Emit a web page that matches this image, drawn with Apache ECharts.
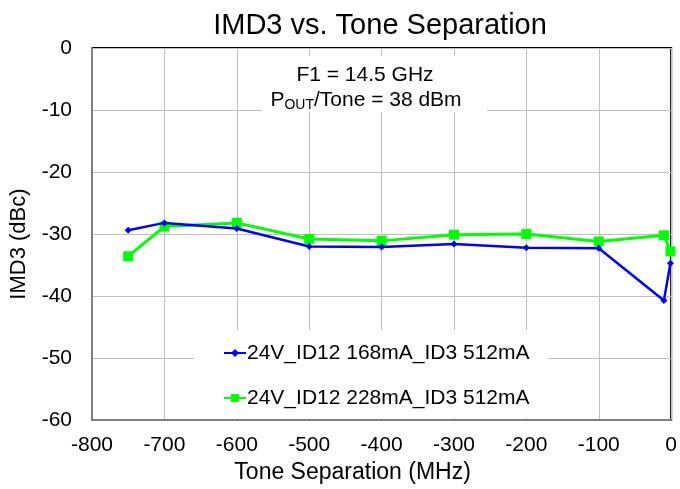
<!DOCTYPE html>
<html>
<head>
<meta charset="utf-8">
<script src="https://cdn.jsdelivr.net/npm/echarts@6/dist/echarts.min.js"></script>
<style>
  html, body { margin: 0; padding: 0; background: #fff; }
  #chart { width: 680px; height: 489px; }
</style>
</head>
<body>
<div id="chart"></div>
<script>
// tone separation (MHz) for each measured point
var toneSep = [-750, -700, -600, -500, -400, -300, -200, -100, -10, -1];
// IMD3 (dBc)
var imd3Id168 = [-29.4, -28.2, -29.1, -32.0, -32.1, -31.6, -32.2, -32.3, -40.7, -34.7];
var imd3Id228 = [-33.6, -28.8, -28.2, -30.8, -31.1, -30.1, -30.0, -31.2, -30.2, -32.8];
var seriesNames = ['24V_ID12 168mA_ID3 512mA', '24V_ID12 228mA_ID3 512mA'];

var FONT = 'Liberation Sans, Arial, sans-serif';

function pairs(xs, ys) {
    var out = [];
    for (var i = 0; i < xs.length; i++) {
        out.push([xs[i], ys[i]]);
    }
    return out;
}

var chart = echarts.init(document.getElementById('chart'));

chart.setOption({
    animation: false,
    backgroundColor: '#fff',
    textStyle: { fontFamily: FONT },
    title: {
        text: 'IMD3 vs. Tone Separation',
        left: 375,
        top: 6,
        textAlign: 'center',
        textStyle: { fontFamily: FONT, fontSize: 29, fontWeight: 'normal', color: '#000' }
    },
    grid: {
        left: 92, right: 6, top: 48, bottom: 65,
        show: true,
        borderColor: '#000',
        borderWidth: 2,
        backgroundColor: 'transparent'
    },
    xAxis: {
        type: 'value',
        min: -800, max: 0, interval: 100,
        name: 'Tone Separation (MHz)',
        nameLocation: 'middle',
        nameGap: 38,
        // the name sits a little left of the plot centre in the original
        nameTextStyle: { fontFamily: FONT, fontSize: 23, color: '#000', padding: [0, 58, 0, 0] },
        axisLine: { show: true, onZero: false, lineStyle: { color: '#808080', width: 2 } },
        axisTick: { show: false },
        axisLabel: { fontFamily: FONT, fontSize: 21, color: '#000', margin: 15 },
        splitLine: { show: true, lineStyle: { color: '#c0c0c0', width: 1 } }
    },
    yAxis: {
        type: 'value',
        min: -60, max: 0, interval: 10,
        name: 'IMD3 (dBc)',
        nameLocation: 'middle',
        nameGap: 62,
        nameTextStyle: { fontFamily: FONT, fontSize: 22, color: '#000', padding: [0, 20, 0, 0] },
        axisLine: { show: true, onZero: false, lineStyle: { color: '#808080', width: 2 } },
        axisTick: { show: false },
        axisLabel: { fontFamily: FONT, fontSize: 21, color: '#000', margin: 20 },
        splitLine: { show: true, lineStyle: { color: '#c0c0c0', width: 1 } }
    },
    legend: {
        orient: 'vertical',
        left: 194,
        top: 330,
        padding: [12, 18, 9, 29],
        itemGap: 23,
        itemWidth: 22,
        itemHeight: 10,
        backgroundColor: '#fff',
        textStyle: { fontFamily: FONT, fontSize: 21, lineHeight: 22, color: '#000', padding: [0, 0, 0, -4] },
        data: seriesNames
    },
    graphic: [
        {
            type: 'rect',
            shape: { x: 262, y: 56, width: 225, height: 56 },
            style: { fill: '#fff' },
            z: 50
        },
        {
            type: 'text',
            x: 365, y: 75,
            style: {
                text: 'F1 = 14.5 GHz',
                font: '21px ' + FONT,
                fill: '#000',
                align: 'center',
                verticalAlign: 'middle'
            },
            z: 51
        },
        {
            type: 'text',
            x: 366, y: 100,
            style: {
                text: '{a|P}{s|OUT}{a|/Tone = 38 dBm}',
                align: 'center',
                verticalAlign: 'middle',
                rich: {
                    a: { fontFamily: FONT, fontSize: 21, fill: '#000', color: '#000', lineHeight: 24 },
                    s: { fontFamily: FONT, fontSize: 14, fill: '#000', color: '#000', lineHeight: 24, verticalAlign: 'bottom', padding: [7, 0, 0, 0] }
                }
            },
            z: 51
        }
    ],
    series: [
        {
            name: seriesNames[0],
            type: 'line',
            data: pairs(toneSep, imd3Id168),
            symbol: 'diamond',
            symbolSize: 7,
            clip: false,
            itemStyle: { color: '#0000ff' },
            lineStyle: { color: '#0000ff', width: 2.5 },
            z: 3
        },
        {
            name: seriesNames[1],
            type: 'line',
            data: pairs(toneSep, imd3Id228),
            symbol: 'rect',
            symbolSize: 10,
            clip: false,
            itemStyle: { color: '#00ff00' },
            lineStyle: { color: '#00ff00', width: 3 },
            z: 2
        }
    ]
});
</script>
</body>
</html>
